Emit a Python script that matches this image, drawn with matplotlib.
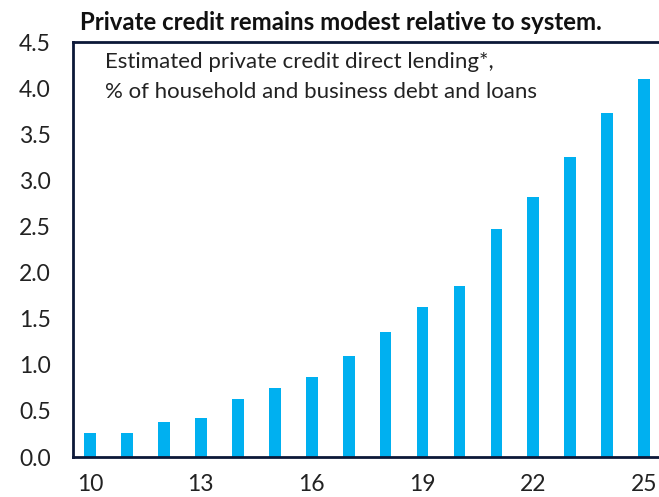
import matplotlib.pyplot as plt
import numpy as np

years = [10, 11, 12, 13, 14, 15, 16, 17, 18, 19, 20, 21, 22, 23, 24, 25]
share = [0.26, 0.26, 0.38, 0.42, 0.63, 0.75, 0.87, 1.10, 1.36, 1.63, 1.85,
         2.47, 2.82, 3.25, 3.73, 4.10]
xticks = [10, 13, 16, 19, 22, 25]
yticks = [0.0, 0.5, 1.0, 1.5, 2.0, 2.5, 3.0, 3.5, 4.0, 4.5]

plt.rcParams['font.family'] = ['Lato', 'DejaVu Sans']

fig = plt.figure(figsize=(6.59, 4.97), dpi=100)
ax = fig.add_axes([73 / 659, 40 / 497, 1 - 73 / 659, 415 / 497])

ax.bar(years, share, width=0.32, color='#00B0F0')

ax.set_xlim(9.54, 25.4)
ax.set_ylim(0, 4.5)
ax.set_xticks(xticks)
ax.set_yticks(yticks)
ax.set_yticklabels([f'{v:.1f}' for v in yticks])
ax.tick_params(length=0, labelsize=16.5, colors='#222222')
ax.tick_params(axis='y', pad=16)
ax.tick_params(axis='x', pad=12)

navy = '#0C1838'
for side in ['left', 'bottom', 'top']:
    ax.spines[side].set_color(navy)
    ax.spines[side].set_linewidth(2)
ax.spines['right'].set_visible(False)

ax.text(0.055, 0.975, 'Estimated private credit direct lending*,\n% of household and business debt and loans',
        transform=ax.transAxes, ha='left', va='top', fontsize=16, linespacing=1.6, color='#222222')

fig.text(80 / 659, 1 - 22 / 497, 'Private credit remains modest relative to system.',
         ha='left', va='center', fontsize=17.3, fontweight='bold', color='#111111')

fig.savefig('out.png', dpi=100)
